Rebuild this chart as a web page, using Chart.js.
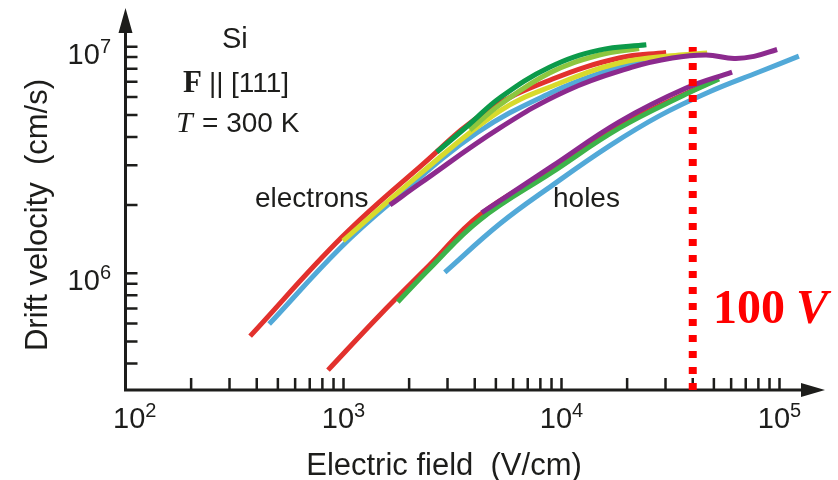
<!DOCTYPE html>
<html>
<head>
<meta charset="utf-8">
<script src="https://cdn.jsdelivr.net/npm/chart.js@4.4.1/dist/chart.umd.min.js"></script>
<style>
  html, body { margin: 0; padding: 0; background: #fff; }
  #driftChart { display: block; }
</style>
</head>
<body>
<canvas id="driftChart" width="838" height="480"></canvas>
<script>
// Si drift velocity vs electric field, F || [111], T = 300 K  (log-log)

// electrons (field in V/cm, velocity in cm/s)
const elecRedE = [373, 984, 2240, 4540, 9100, 18400, 30200];
const elecRedV = [5.28e5, 1.445e6, 2.95e6, 5.20e6, 7.20e6, 8.91e6, 9.42e6];
const elecBlueE = [456, 964, 1633, 4083, 9100, 16600, 24000];
const elecBlueV = [5.97e5, 1.29e6, 2.04e6, 4.16e6, 6.31e6, 7.89e6, 8.65e6];
const elecYellowE = [995, 2240, 5200, 9100, 18400, 34700, 46600];
const elecYellowV = [1.39e6, 2.74e6, 5.20e6, 6.71e6, 8.47e6, 9.19e6, 9.38e6];
const elecPurpleE = [1633, 2240, 5200, 10500, 21100, 32200, 46100, 61900, 76400, 97500];
const elecPurpleV = [2.00e6, 2.49e6, 4.37e6, 6.38e6, 8.12e6, 8.91e6, 9.19e6, 8.87e6, 9.06e6, 9.72e6];
const elecDkGreenE = [2680, 3796, 5200, 8810, 14900, 24500];
const elecDkGreenV = [3.43e6, 4.56e6, 5.94e6, 8.12e6, 9.66e6, 1.02e7];
const elecLtGreenE = [3796, 5200, 8810, 14900, 22700];
const elecLtGreenV = [4.29e6, 5.53e6, 7.66e6, 9.19e6, 9.82e6];

// holes
const holeRedE = [849, 1469, 2488, 4217, 9100, 18400, 46100];
const holeRedV = [3.74e5, 6.55e5, 1.09e6, 1.81e6, 2.88e6, 4.47e6, 6.84e6];
const holeGreenE = [1774, 2488, 4217, 9100, 18400, 37300, 52800];
const holeGreenV = [7.47e5, 1.05e6, 1.72e6, 2.80e6, 4.37e6, 6.18e6, 7.20e6];
const holePurpleE = [4305, 9100, 18400, 37300, 60600];
const holePurpleV = [1.85e6, 2.98e6, 4.66e6, 6.57e6, 7.73e6];
const holeBlueE = [2915, 5200, 9100, 16600, 28100, 47500, 80500, 122700];
const holeBlueV = [1.01e6, 1.65e6, 2.45e6, 3.65e6, 4.95e6, 6.31e6, 7.73e6, 9.09e6];

// 100 V marker
const biasE = [4e4, 4e4];
const biasV = [3.055e5, 1.0e7];

// axes
const fieldMin = 100, fieldMax = 1.617e5;
const velMin = 3.055e5, velMax = 1.452e7;
const fieldTicks = [100, 1000, 10000, 100000];
const fieldExp = ['2', '3', '4', '5'];
const velTicks = [1e6, 1e7];
const velExp = ['6', '7'];

const ink = '#1d1d1b';
const sans = '"Liberation Sans", Arial, sans-serif';
const serif = '"Liberation Serif", "Times New Roman", serif';

function pts(E, V) {
    return E.map((e, i) => ({ x: e, y: V[i] }));
}

function curve(E, V, color, extra) {
    return Object.assign({
        data: pts(E, V),
        borderColor: color,
        borderWidth: 5,
        pointRadius: 0,
        fill: false,
        tension: 0.4
    }, extra || {});
}

// paint order = array order
const datasets = [
    curve(holeRedE, holeRedV, '#e2312d'),
    curve(holeGreenE, holeGreenV, '#3db34a'),
    curve(holeBlueE, holeBlueV, '#52a9d8'),
    curve(holePurpleE, holePurpleV, '#8c2a8e'),
    curve(biasE, biasV, '#ff0000', { borderWidth: 8, borderDash: [7, 9], tension: 0 }),
    curve(elecBlueE, elecBlueV, '#52a9d8'),
    curve(elecRedE, elecRedV, '#e2312d'),
    curve(elecYellowE, elecYellowV, '#d8da2c'),
    curve(elecPurpleE, elecPurpleV, '#8c2a8e'),
    curve(elecLtGreenE, elecLtGreenV, '#8dc63f'),
    curve(elecDkGreenE, elecDkGreenV, '#0c9a4a'),
];
datasets.forEach((d, i) => { d.order = -i; });

function minorTicks(lo, hi) {
    const out = [];
    for (let d = Math.pow(10, Math.floor(Math.log10(lo))); d < hi; d *= 10) {
        for (let m = 1; m <= 9; m++) {
            const v = m * d;
            if (v > lo * 1.001 && v < hi) out.push(v);
        }
    }
    return out;
}

function powerLabel(ctx, exp, x, baseY, align, minLeft) {
    ctx.font = '29px ' + sans;
    const wb = ctx.measureText('10').width;
    ctx.font = '20px ' + sans;
    const we = ctx.measureText(exp).width;
    let left = align === 'right' ? x - wb - we : x - (wb + we) / 2;
    if (minLeft !== undefined) left = Math.max(left, minLeft);
    ctx.textAlign = 'left';
    ctx.font = '29px ' + sans;
    ctx.fillText('10', left, baseY);
    ctx.font = '20px ' + sans;
    ctx.fillText(exp, left + wb, baseY - 11);
}

const axesPlugin = {
    id: 'arrowAxes',
    beforeDatasetsDraw(chart) {
        const { ctx, chartArea: a, scales: { x, y } } = chart;
        ctx.save();
        ctx.strokeStyle = ink;
        ctx.fillStyle = ink;
        ctx.lineWidth = 3;
        ctx.beginPath();
        ctx.moveTo(a.left - 1.5, a.bottom);
        ctx.lineTo(a.right - 20, a.bottom);
        ctx.moveTo(a.left, a.bottom + 1.5);
        ctx.lineTo(a.left, a.top + 20);
        ctx.stroke();

        // arrow heads
        ctx.beginPath();
        ctx.moveTo(a.right, a.bottom);
        ctx.lineTo(a.right - 24, a.bottom - 7);
        ctx.lineTo(a.right - 24, a.bottom + 7);
        ctx.closePath();
        ctx.moveTo(a.left, a.top - 2);
        ctx.lineTo(a.left - 7, a.top + 23);
        ctx.lineTo(a.left + 7, a.top + 23);
        ctx.closePath();
        ctx.fill();

        // inward tick marks
        ctx.lineWidth = 2.5;
        ctx.beginPath();
        minorTicks(fieldMin, 1.01e5).forEach(v => {
            const px = x.getPixelForValue(v);
            ctx.moveTo(px, a.bottom);
            ctx.lineTo(px, a.bottom - 12);
        });
        minorTicks(velMin, 1.01e7).forEach(v => {
            const py = y.getPixelForValue(v);
            ctx.moveTo(a.left, py);
            ctx.lineTo(a.left + 12, py);
        });
        ctx.stroke();
        ctx.restore();
    },
    afterDatasetsDraw(chart) {
        const { ctx, scales: { x, y } } = chart;
        ctx.save();
        ctx.fillStyle = ink;
        ctx.textBaseline = 'alphabetic';

        fieldTicks.forEach((v, i) => {
            powerLabel(ctx, fieldExp[i], x.getPixelForValue(v), 428, 'center', 113);
        });
        velTicks.forEach((v, i) => {
            powerLabel(ctx, velExp[i], 111, y.getPixelForValue(v) + 17, 'right');
        });

        // axis titles
        ctx.textAlign = 'center';
        ctx.font = '31px ' + sans;
        ctx.fillText('Electric field  (V/cm)', 444, 475);
        ctx.save();
        ctx.translate(47, 215);
        ctx.rotate(-Math.PI / 2);
        ctx.fillText('Drift velocity  (cm/s)', 0, 0);
        ctx.restore();

        // material / conditions
        ctx.textAlign = 'left';
        ctx.font = '29px ' + sans;
        ctx.fillText('Si', 222, 48);
        ctx.font = 'bold 31px ' + serif;
        ctx.fillText('F', 183, 92);
        ctx.font = '28px ' + sans;
        ctx.fillText('||', 209, 92);
        ctx.fillText('[111]', 231, 92);
        ctx.font = 'italic 30px ' + serif;
        ctx.fillText('T', 176, 132);
        ctx.font = '28px ' + sans;
        ctx.fillText('= 300 K', 202, 132);

        ctx.fillText('electrons', 255, 207);
        ctx.fillText('holes', 553, 207);

        // bias label
        ctx.fillStyle = '#ff0000';
        ctx.font = 'bold 48px ' + serif;
        ctx.fillText('100', 713, 323);
        ctx.font = 'italic bold 48px ' + serif;
        ctx.fillText('V', 796, 323);
        ctx.restore();
    }
};

new Chart(document.getElementById('driftChart'), {
    type: 'line',
    data: { datasets: datasets },
    options: {
        responsive: false,
        animation: false,
        devicePixelRatio: 1,
        layout: {
            padding: { left: 125.5, right: 13, top: 10, bottom: 90 }
        },
        plugins: {
            legend: { display: false },
            title: { display: false },
            tooltip: { enabled: false }
        },
        scales: {
            x: { type: 'logarithmic', min: fieldMin, max: fieldMax, bounds: 'data', display: false },
            y: { type: 'logarithmic', min: velMin, max: velMax, bounds: 'data', display: false }
        }
    },
    plugins: [axesPlugin]
});
</script>
</body>
</html>
